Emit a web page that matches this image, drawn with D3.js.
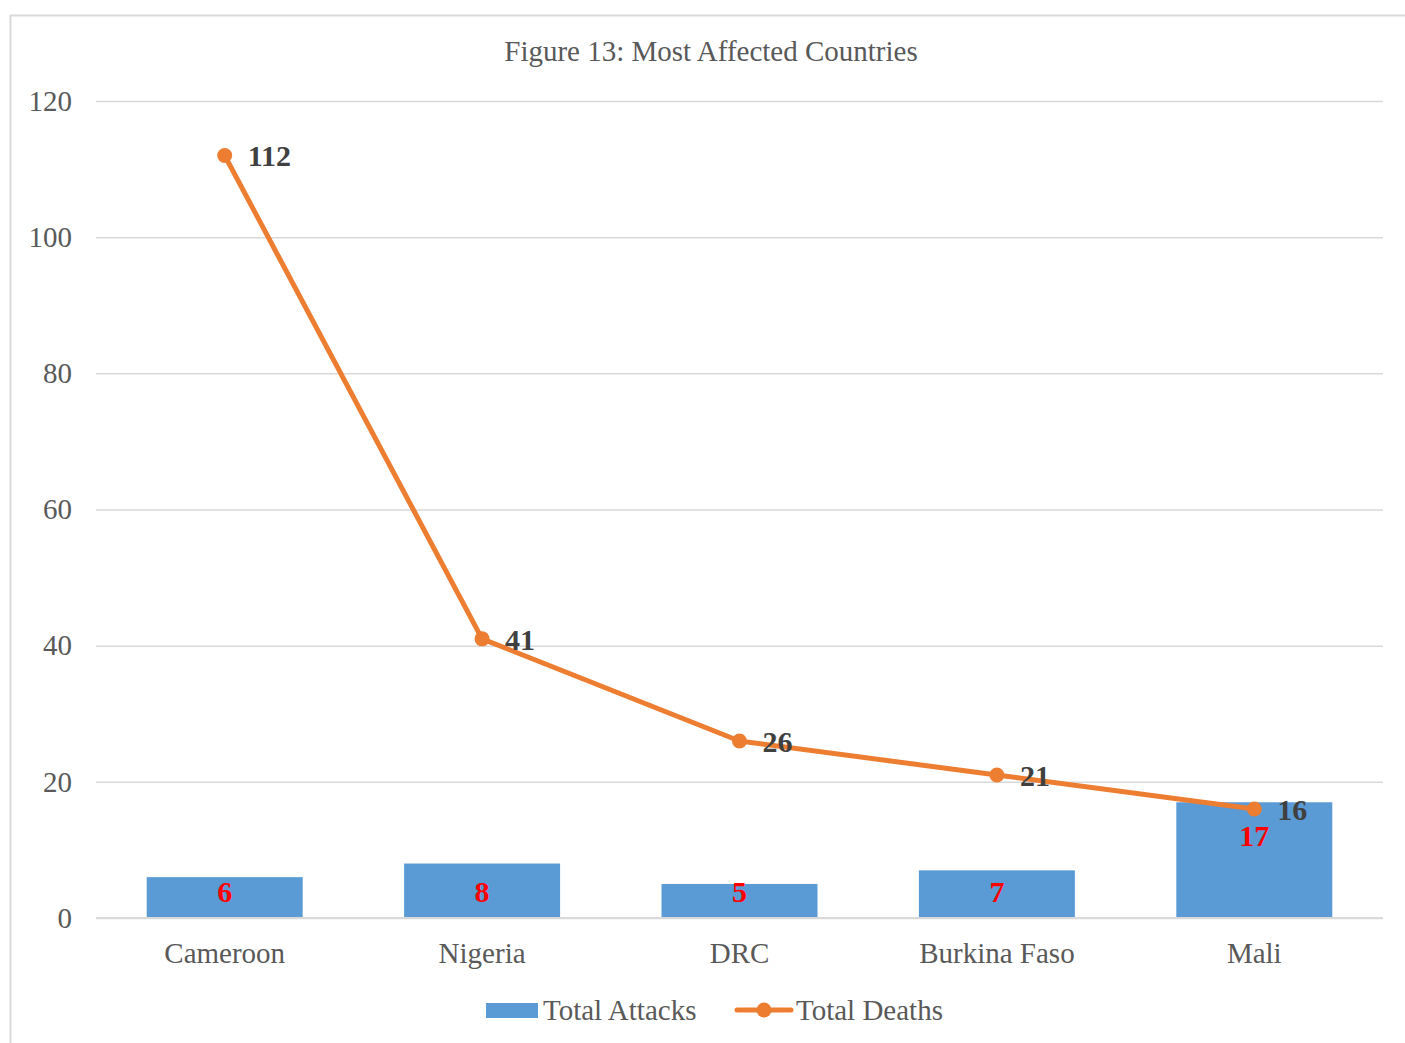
<!DOCTYPE html>
<html>
<head>
<meta charset="utf-8">
<script src="https://cdn.jsdelivr.net/npm/d3@7"></script>
<style>
  html, body { margin: 0; padding: 0; background: #fff; }
  svg { display: block; }
  text { font-family: "Liberation Serif", "Times New Roman", serif; }
</style>
</head>
<body>
<svg id="chart" width="1405" height="1043"></svg>
<script>
// Attacks and deaths per country
const countries = ["Cameroon", "Nigeria", "DRC", "Burkina Faso", "Mali"];
const totalAttacks = [6, 8, 5, 7, 17];
const totalDeaths = [112, 41, 26, 21, 16];
const yTicks = [0, 20, 40, 60, 80, 100, 120];
const chartTitle = "Figure 13: Most Affected Countries";
const seriesNames = ["Total Attacks", "Total Deaths"];

const W = 1405, H = 1043;
const margin = { left: 96, right: 22, top: 101, bottom: 125 };
const textGray = "#595959";
const barBlue = "#5B9BD5";
const lineOrange = "#ED7D31";
const gridGray = "#D9D9D9";

const svg = d3.select("#chart");

// outer chart frame
svg.append("rect")
  .attr("x", 10.5).attr("y", 15.5)
  .attr("width", W + 20).attr("height", H + 20)
  .attr("fill", "none").attr("stroke", gridGray).attr("stroke-width", 2);

const x = d3.scaleBand()
  .domain(countries)
  .range([margin.left, W - margin.right])
  .paddingInner(0.394).paddingOuter(0.197);

const y = d3.scaleLinear()
  .domain([0, 120])
  .range([H - margin.bottom, margin.top]);

// title
svg.append("text")
  .attr("x", 711).attr("y", 61)
  .attr("text-anchor", "middle")
  .attr("font-size", 29)
  .attr("fill", textGray)
  .text(chartTitle);

// gridlines + y labels
const yAxis = d3.axisLeft(y)
  .tickValues(yTicks)
  .tickSize(-(W - margin.right - margin.left))
  .tickPadding(24);
const gy = svg.append("g")
  .attr("transform", `translate(${margin.left},0)`)
  .call(yAxis);
gy.select(".domain").remove();
gy.selectAll(".tick line").attr("stroke", gridGray).attr("stroke-width", 1.5);
gy.selectAll(".tick text")
  .attr("font-size", 29)
  .attr("fill", textGray)
  .attr("font-family", "Liberation Serif, Times New Roman, serif");

// category axis
const xAxis = d3.axisBottom(x).tickSize(0).tickPadding(24);
const gx = svg.append("g")
  .attr("transform", `translate(0,${y(0)})`)
  .call(xAxis);
gx.select(".domain").remove();
gx.selectAll(".tick text")
  .attr("font-size", 29)
  .attr("fill", textGray)
  .attr("font-family", "Liberation Serif, Times New Roman, serif");

// bars
svg.append("g").selectAll("rect")
  .data(countries)
  .join("rect")
  .attr("x", d => x(d))
  .attr("width", x.bandwidth())
  .attr("y", (d, i) => y(totalAttacks[i]))
  .attr("height", (d, i) => y(0) - y(totalAttacks[i]))
  .attr("fill", barBlue);

// baseline drawn over the bars
svg.append("line")
  .attr("x1", margin.left).attr("x2", W - margin.right)
  .attr("y1", y(0)).attr("y2", y(0))
  .attr("stroke", gridGray).attr("stroke-width", 2);

// deaths line
const cx = d => x(d) + x.bandwidth() / 2;
const line = d3.line()
  .x((d, i) => cx(countries[i]))
  .y(d => y(d));
svg.append("path")
  .datum(totalDeaths)
  .attr("d", line)
  .attr("fill", "none")
  .attr("stroke", lineOrange)
  .attr("stroke-width", 5)
  .attr("stroke-linejoin", "round");
svg.append("g").selectAll("circle")
  .data(totalDeaths)
  .join("circle")
  .attr("cx", (d, i) => cx(countries[i]))
  .attr("cy", d => y(d))
  .attr("r", 7.5)
  .attr("fill", lineOrange);

// bar value labels: near the bar base, or just under the line marker
// when the bar reaches up to the deaths line
svg.append("g").selectAll("text")
  .data(totalAttacks)
  .join("text")
  .attr("x", (d, i) => cx(countries[i]))
  .attr("y", (d, i) => d >= totalDeaths[i] ? y(totalDeaths[i]) + 37 : y(0) - 16)
  .attr("text-anchor", "middle")
  .attr("font-size", 30)
  .attr("font-weight", "bold")
  .attr("fill", "#FF0000")
  .text(d => d);

// line value labels
svg.append("g").selectAll("text")
  .data(totalDeaths)
  .join("text")
  .attr("x", (d, i) => cx(countries[i]) + 23)
  .attr("y", d => y(d) + 11)
  .attr("font-size", 30)
  .attr("font-weight", "bold")
  .attr("fill", "#404040")
  .text(d => d);

// legend
const lg = svg.append("g");
lg.append("rect")
  .attr("x", 486).attr("y", 1003).attr("width", 52).attr("height", 15)
  .attr("fill", barBlue);
lg.append("text")
  .attr("x", 543).attr("y", 1020)
  .attr("font-size", 29).attr("fill", textGray)
  .text(seriesNames[0]);
lg.append("line")
  .attr("x1", 737).attr("x2", 791).attr("y1", 1010).attr("y2", 1010)
  .attr("stroke", lineOrange).attr("stroke-width", 5).attr("stroke-linecap", "round");
lg.append("circle")
  .attr("cx", 764).attr("cy", 1010).attr("r", 7.5).attr("fill", lineOrange);
lg.append("text")
  .attr("x", 796).attr("y", 1020)
  .attr("font-size", 29).attr("fill", textGray)
  .text(seriesNames[1]);
</script>
</body>
</html>
